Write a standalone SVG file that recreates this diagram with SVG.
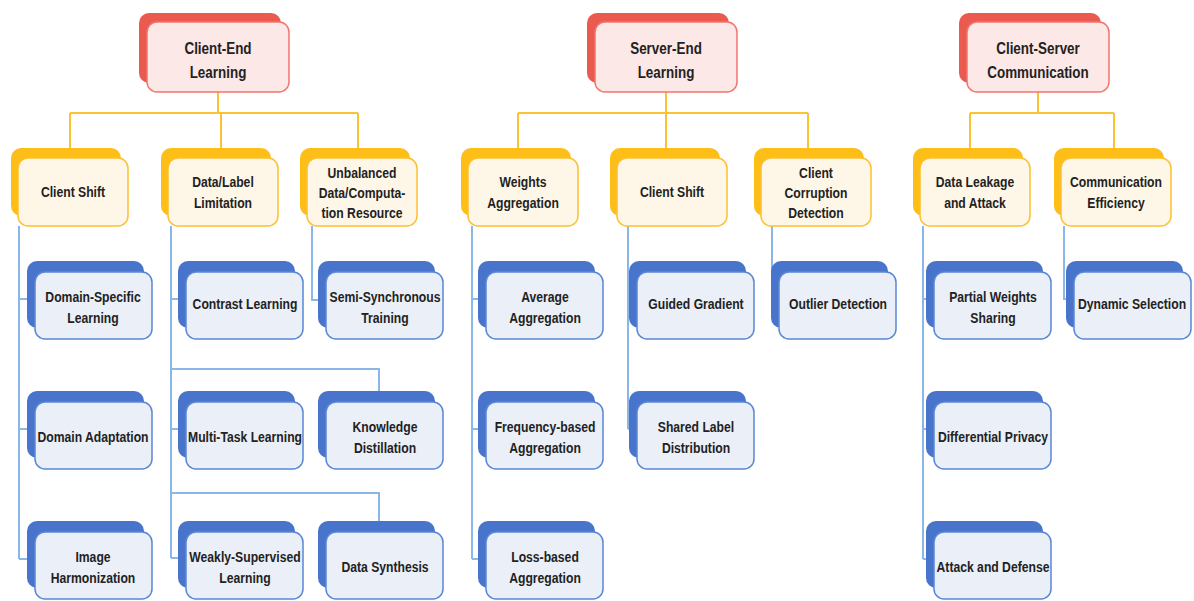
<svg xmlns="http://www.w3.org/2000/svg" width="1194" height="601" viewBox="0 0 1194 601">
<style>
text{font-family:"Liberation Sans",Arial,sans-serif;font-weight:bold;fill:#222;text-anchor:middle}
.t1{font-size:16px}
.t2{font-size:14.5px}
.rb{fill:#EB5A4E}
.rf{fill:#FCE8E6;stroke:#F0766C;stroke-width:1.5}
.ob{fill:#FDBE17}
.of{fill:#FEF7E8;stroke:#FDC030;stroke-width:1.5}
.bb{fill:#4874CB}
.bf{fill:#EAEFF8;stroke:#5A86D6;stroke-width:1.5}
.co{fill:none;stroke:#FDC232;stroke-width:2}
.cb{fill:none;stroke:#8AB6E8;stroke-width:2}
</style>
<rect width="1194" height="601" fill="#ffffff"/>
<g id="connectors">
<path class="co" d="M218 92V113M70 113H358M70 113V148M221 113V148M358 113V148"/>
<path class="co" d="M666 92V113M518 113H808M518 113V148M666 113V148M808 113V148"/>
<path class="co" d="M1038 92V113M970 113H1114M970 113V148M1114 113V148"/>
<path class="cb" d="M19 226V559M19 299H27M19 429H27M19 559H27"/>
<path class="cb" d="M171 226V558M171 299H178M171 369H379V391M171 429H178M171 493H379V521M171 558H178"/>
<path class="cb" d="M312 226V300H318"/>
<path class="cb" d="M472 226V559M472 299H478M472 429H478M472 559H478"/>
<path class="cb" d="M628 226V429M628 299H629M628 429H629"/>
<path class="cb" d="M772 226V299H771"/>
<path class="cb" d="M923 226V559M923 299H926M923 429H926M923 559H926"/>
<path class="cb" d="M1064 226V299H1066"/>
</g>
<g id="n-client-end">
<rect class="rb" x="139" y="13" width="142" height="70" rx="10"/>
<rect class="rf" x="147" y="22" width="142" height="70" rx="10"/>
<g transform="translate(218 0) scale(0.84 1)"><text class="t1" x="0" y="54">Client-End</text><text class="t1" x="0" y="78">Learning</text></g>
</g>
<g id="n-server-end">
<rect class="rb" x="587" y="13" width="142" height="70" rx="10"/>
<rect class="rf" x="595" y="22" width="142" height="70" rx="10"/>
<g transform="translate(666 0) scale(0.84 1)"><text class="t1" x="0" y="54">Server-End</text><text class="t1" x="0" y="78">Learning</text></g>
</g>
<g id="n-client-server">
<rect class="rb" x="959" y="13" width="142" height="70" rx="10"/>
<rect class="rf" x="967" y="22" width="142" height="70" rx="10"/>
<g transform="translate(1038 0) scale(0.84 1)"><text class="t1" x="0" y="54">Client-Server</text><text class="t1" x="0" y="78">Communication</text></g>
</g>
<g id="n-client-shift-1">
<rect class="ob" x="11" y="148" width="110" height="68" rx="10"/>
<rect class="of" x="18" y="158" width="110" height="68" rx="10"/>
<g transform="translate(73 0) scale(0.84 1)"><text class="t2" x="0" y="197">Client Shift</text></g>
</g>
<g id="n-data-label">
<rect class="ob" x="161" y="148" width="110" height="68" rx="10"/>
<rect class="of" x="168" y="158" width="110" height="68" rx="10"/>
<g transform="translate(223 0) scale(0.84 1)"><text class="t2" x="0" y="187">Data/Label</text><text class="t2" x="0" y="208">Limitation</text></g>
</g>
<g id="n-unbalanced">
<rect class="ob" x="300" y="148" width="110" height="68" rx="10"/>
<rect class="of" x="307" y="158" width="110" height="68" rx="10"/>
<g transform="translate(362 0) scale(0.84 1)"><text class="t2" x="0" y="178">Unbalanced</text><text class="t2" x="0" y="198">Data/Computa-</text><text class="t2" x="0" y="218">tion Resource</text></g>
</g>
<g id="n-weights-agg">
<rect class="ob" x="461" y="148" width="110" height="68" rx="10"/>
<rect class="of" x="468" y="158" width="110" height="68" rx="10"/>
<g transform="translate(523 0) scale(0.84 1)"><text class="t2" x="0" y="187">Weights</text><text class="t2" x="0" y="208">Aggregation</text></g>
</g>
<g id="n-client-shift-2">
<rect class="ob" x="610" y="148" width="110" height="68" rx="10"/>
<rect class="of" x="617" y="158" width="110" height="68" rx="10"/>
<g transform="translate(672 0) scale(0.84 1)"><text class="t2" x="0" y="197">Client Shift</text></g>
</g>
<g id="n-client-corruption">
<rect class="ob" x="754" y="148" width="110" height="68" rx="10"/>
<rect class="of" x="761" y="158" width="110" height="68" rx="10"/>
<g transform="translate(816 0) scale(0.84 1)"><text class="t2" x="0" y="178">Client</text><text class="t2" x="0" y="198">Corruption</text><text class="t2" x="0" y="218">Detection</text></g>
</g>
<g id="n-data-leakage">
<rect class="ob" x="913" y="148" width="110" height="68" rx="10"/>
<rect class="of" x="920" y="158" width="110" height="68" rx="10"/>
<g transform="translate(975 0) scale(0.84 1)"><text class="t2" x="0" y="187">Data Leakage</text><text class="t2" x="0" y="208">and Attack</text></g>
</g>
<g id="n-comm-eff">
<rect class="ob" x="1054" y="148" width="110" height="68" rx="10"/>
<rect class="of" x="1061" y="158" width="110" height="68" rx="10"/>
<g transform="translate(1116 0) scale(0.84 1)"><text class="t2" x="0" y="187">Communication</text><text class="t2" x="0" y="208">Efficiency</text></g>
</g>
<g id="n-domain-specific">
<rect class="bb" x="27" y="261" width="117" height="67" rx="10"/>
<rect class="bf" x="35" y="272" width="117" height="67" rx="10"/>
<g transform="translate(93 0) scale(0.84 1)"><text class="t2" x="0" y="302">Domain-Specific</text><text class="t2" x="0" y="323">Learning</text></g>
</g>
<g id="n-domain-adaptation">
<rect class="bb" x="27" y="391" width="117" height="67" rx="10"/>
<rect class="bf" x="35" y="402" width="117" height="67" rx="10"/>
<g transform="translate(93 0) scale(0.84 1)"><text class="t2" x="0" y="442">Domain Adaptation</text></g>
</g>
<g id="n-image-harmonization">
<rect class="bb" x="27" y="521" width="117" height="67" rx="10"/>
<rect class="bf" x="35" y="532" width="117" height="67" rx="10"/>
<g transform="translate(93 0) scale(0.84 1)"><text class="t2" x="0" y="562">Image</text><text class="t2" x="0" y="583">Harmonization</text></g>
</g>
<g id="n-contrast">
<rect class="bb" x="178" y="261" width="117" height="67" rx="10"/>
<rect class="bf" x="186" y="272" width="117" height="67" rx="10"/>
<g transform="translate(245 0) scale(0.84 1)"><text class="t2" x="0" y="309">Contrast Learning</text></g>
</g>
<g id="n-multi-task">
<rect class="bb" x="178" y="391" width="117" height="67" rx="10"/>
<rect class="bf" x="186" y="402" width="117" height="67" rx="10"/>
<g transform="translate(245 0) scale(0.84 1)"><text class="t2" x="0" y="442">Multi-Task Learning</text></g>
</g>
<g id="n-weakly">
<rect class="bb" x="178" y="521" width="117" height="67" rx="10"/>
<rect class="bf" x="186" y="532" width="117" height="67" rx="10"/>
<g transform="translate(245 0) scale(0.84 1)"><text class="t2" x="0" y="562">Weakly-Supervised</text><text class="t2" x="0" y="583">Learning</text></g>
</g>
<g id="n-semi-sync">
<rect class="bb" x="318" y="261" width="117" height="67" rx="10"/>
<rect class="bf" x="326" y="272" width="117" height="67" rx="10"/>
<g transform="translate(385 0) scale(0.84 1)"><text class="t2" x="0" y="302">Semi-Synchronous</text><text class="t2" x="0" y="323">Training</text></g>
</g>
<g id="n-knowledge">
<rect class="bb" x="318" y="391" width="117" height="67" rx="10"/>
<rect class="bf" x="326" y="402" width="117" height="67" rx="10"/>
<g transform="translate(385 0) scale(0.84 1)"><text class="t2" x="0" y="432">Knowledge</text><text class="t2" x="0" y="453">Distillation</text></g>
</g>
<g id="n-data-synthesis">
<rect class="bb" x="318" y="521" width="117" height="67" rx="10"/>
<rect class="bf" x="326" y="532" width="117" height="67" rx="10"/>
<g transform="translate(385 0) scale(0.84 1)"><text class="t2" x="0" y="572">Data Synthesis</text></g>
</g>
<g id="n-average">
<rect class="bb" x="478" y="261" width="117" height="67" rx="10"/>
<rect class="bf" x="486" y="272" width="117" height="67" rx="10"/>
<g transform="translate(545 0) scale(0.84 1)"><text class="t2" x="0" y="302">Average</text><text class="t2" x="0" y="323">Aggregation</text></g>
</g>
<g id="n-frequency">
<rect class="bb" x="478" y="391" width="117" height="67" rx="10"/>
<rect class="bf" x="486" y="402" width="117" height="67" rx="10"/>
<g transform="translate(545 0) scale(0.84 1)"><text class="t2" x="0" y="432">Frequency-based</text><text class="t2" x="0" y="453">Aggregation</text></g>
</g>
<g id="n-loss">
<rect class="bb" x="478" y="521" width="117" height="67" rx="10"/>
<rect class="bf" x="486" y="532" width="117" height="67" rx="10"/>
<g transform="translate(545 0) scale(0.84 1)"><text class="t2" x="0" y="562">Loss-based</text><text class="t2" x="0" y="583">Aggregation</text></g>
</g>
<g id="n-guided">
<rect class="bb" x="629" y="261" width="117" height="67" rx="10"/>
<rect class="bf" x="637" y="272" width="117" height="67" rx="10"/>
<g transform="translate(696 0) scale(0.84 1)"><text class="t2" x="0" y="309">Guided Gradient</text></g>
</g>
<g id="n-shared-label">
<rect class="bb" x="629" y="391" width="117" height="67" rx="10"/>
<rect class="bf" x="637" y="402" width="117" height="67" rx="10"/>
<g transform="translate(696 0) scale(0.84 1)"><text class="t2" x="0" y="432">Shared Label</text><text class="t2" x="0" y="453">Distribution</text></g>
</g>
<g id="n-outlier">
<rect class="bb" x="771" y="261" width="117" height="67" rx="10"/>
<rect class="bf" x="779" y="272" width="117" height="67" rx="10"/>
<g transform="translate(838 0) scale(0.84 1)"><text class="t2" x="0" y="309">Outlier Detection</text></g>
</g>
<g id="n-partial">
<rect class="bb" x="926" y="261" width="117" height="67" rx="10"/>
<rect class="bf" x="934" y="272" width="117" height="67" rx="10"/>
<g transform="translate(993 0) scale(0.84 1)"><text class="t2" x="0" y="302">Partial Weights</text><text class="t2" x="0" y="323">Sharing</text></g>
</g>
<g id="n-differential">
<rect class="bb" x="926" y="391" width="117" height="67" rx="10"/>
<rect class="bf" x="934" y="402" width="117" height="67" rx="10"/>
<g transform="translate(993 0) scale(0.84 1)"><text class="t2" x="0" y="442">Differential Privacy</text></g>
</g>
<g id="n-attack-defense">
<rect class="bb" x="926" y="521" width="117" height="67" rx="10"/>
<rect class="bf" x="934" y="532" width="117" height="67" rx="10"/>
<g transform="translate(993 0) scale(0.84 1)"><text class="t2" x="0" y="572">Attack and Defense</text></g>
</g>
<g id="n-dynamic">
<rect class="bb" x="1066" y="261" width="117" height="67" rx="10"/>
<rect class="bf" x="1074" y="272" width="117" height="67" rx="10"/>
<g transform="translate(1132 0) scale(0.84 1)"><text class="t2" x="0" y="309">Dynamic Selection</text></g>
</g>
</svg>
